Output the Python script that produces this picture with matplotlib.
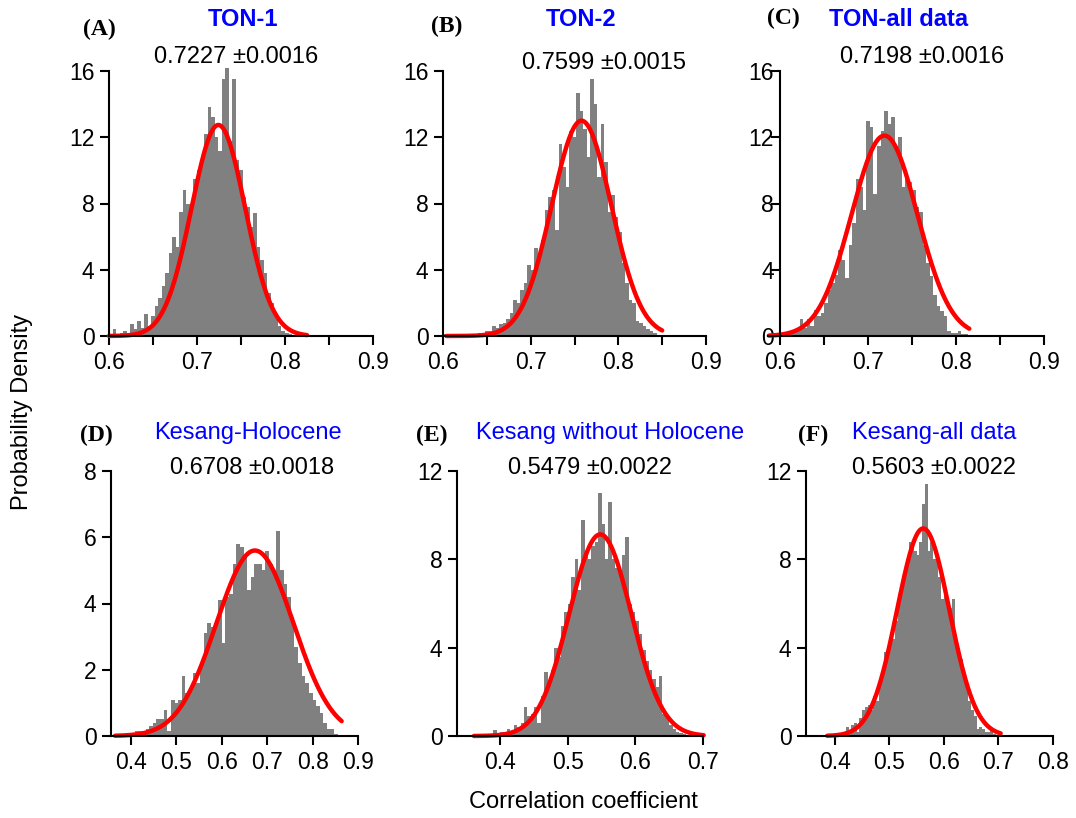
import numpy as np
import matplotlib
matplotlib.use("Agg")
import matplotlib.pyplot as plt

plt.rcParams['font.family'] = ['Liberation Sans', 'DejaVu Sans']

# ---- data ----
# histogram bins: first bin left edge and bin width, then densities
a_start, a_width = 0.600, 0.004
a_dens = [0.1, 0.4, 0.1, 0.2, 0.3, 0.2, 0.7, 0.4, 0.9, 0.5, 1.3, 0.6, 1.2, 1.8,
          2.3, 3.0, 3.8, 5.0, 6.0, 5.4, 7.5, 8.8, 8.0, 7.6, 9.5, 10.0, 10.8,
          12.2, 13.8, 13.2, 12.0, 11.2, 15.5, 16.2, 11.8, 15.5, 10.6, 10.0, 8.4,
          7.8, 6.6, 7.4, 5.4, 4.6, 3.8, 2.6, 2.0, 1.2, 0.6, 0.3, 0.2, 0.1, 0.05,
          0.0, 0.0]

b_start, b_width = 0.600, 0.004
b_dens = [0.1, 0.05, 0.0, 0.05, 0.05, 0.1, 0.05, 0.1, 0.1, 0.05, 0.2, 0.2, 0.3,
          0.3, 0.6, 0.5, 0.7, 0.8, 1.0, 1.4, 2.2, 2.0, 2.8, 3.2, 4.3, 4.0, 5.3,
          5.0, 5.8, 7.6, 8.4, 8.8, 6.4, 11.6, 10.2, 9.0, 12.4, 12.0, 14.7, 13.6,
          12.5, 10.8, 15.5, 14.0, 9.6, 12.8, 10.5, 7.5, 8.5, 7.2, 6.3, 4.4, 3.2,
          2.2, 2.0, 0.9, 0.8, 0.6, 0.4, 0.3, 0.2, 0.05, 0.0]

c_start, c_width = 0.586, 0.004
c_dens = [0.1, 0.05, 0.1, 0.1, 0.1, 0.2, 0.15, 0.3, 0.3, 1.0, 0.5, 1.0, 0.6,
          1.6, 1.2, 1.4, 2.0, 2.8, 3.2, 3.7, 5.2, 4.6, 3.5, 5.5, 6.8, 9.5, 9.0,
          7.6, 13.0, 12.6, 8.6, 11.5, 12.4, 13.6, 12.8, 13.2, 11.5, 12.0, 9.0,
          9.6, 9.3, 8.8, 7.8, 7.5, 5.5, 4.4, 3.6, 2.5, 1.8, 1.5, 1.2, 0.3, 0.2,
          0.2, 0.3, 0.15, 0.1, 0.0]

d_start, d_width = 0.360, 0.008
d_dens = [0.0, 0.02, 0.02, 0.05, 0.05, 0.1, 0.15, 0.15, 0.1, 0.2, 0.3, 0.4, 0.5,
          0.5, 0.8, 0.15, 1.1, 1.0, 1.1, 1.8, 1.3, 1.4, 1.9, 1.6, 2.2, 3.1, 3.4,
          3.3, 3.4, 4.1, 2.8, 4.2, 4.3, 5.2, 5.8, 5.7, 5.5, 4.4, 4.8, 5.2, 5.2,
          5.0, 5.6, 5.2, 5.0, 6.2, 5.0, 4.6, 4.2, 3.6, 2.7, 2.2, 1.8, 1.6, 1.3,
          1.1, 0.9, 0.7, 0.4, 0.2, 0.2, 0.05, 0.0]

e_start, e_width = 0.360, 0.005
e_dens = [0.0, 0.02, 0.05, 0.05, 0.05, 0.1, 0.25, 0.1, 0.2, 0.15, 0.3, 0.2, 0.5,
          0.4, 0.6, 1.3, 0.9, 1.0, 1.3, 0.6, 1.8, 2.9, 2.4, 3.0, 4.0, 3.6, 5.0,
          5.6, 6.0, 7.2, 8.0, 6.6, 9.8, 8.3, 8.0, 8.6, 8.8, 11.0, 9.6, 8.0, 10.6,
          8.0, 7.6, 7.3, 8.2, 9.0, 6.0, 5.6, 5.2, 4.6, 3.9, 3.4, 3.0, 2.6, 2.2,
          2.7, 1.0, 0.9, 0.5, 0.3, 0.2, 0.15, 0.1, 0.05, 0.02, 0.0, 0.0, 0.0]

f_start, f_width = 0.385, 0.005
f_dens = [0.02, 0.02, 0.05, 0.05, 0.05, 0.1, 0.1, 0.4, 0.2, 0.5, 0.6, 0.2, 0.8,
          1.2, 1.3, 1.4, 1.2, 1.8, 1.6, 2.3, 2.7, 3.8, 3.6, 4.1, 4.4, 5.2, 6.0,
          6.5, 7.1, 8.0, 8.8, 8.6, 8.4, 8.2, 8.8, 10.5, 11.4, 8.4, 8.8, 8.0, 8.2,
          7.2, 6.2, 6.6, 6.0, 5.8, 6.2, 4.2, 4.0, 3.5, 2.6, 2.2, 1.6, 1.2, 0.9,
          0.3, 0.4, 0.3, 0.2, 0.2, 0.3, 0.1, 0.05, 0.0]

# gaussian fits: peak height, centre, sigma, x range drawn
fit_amp = [12.74, 13.0, 12.1, 5.6, 9.13, 9.4]
fit_mu = [0.7243, 0.758, 0.7185, 0.673, 0.548, 0.562]
fit_sd = [0.0305, 0.034, 0.0375, 0.085, 0.046, 0.048]
fit_lo = [0.600, 0.604, 0.587, 0.365, 0.361, 0.386]
fit_hi = [0.825, 0.850, 0.815, 0.864, 0.701, 0.704]

letters = ['(A)', '(B)', '(C)', '(D)', '(E)', '(F)']
names = ['TON-1', 'TON-2', 'TON-all data', 'Kesang-Holocene',
         'Kesang without Holocene', 'Kesang-all data']
stats = ['0.7227 \u00b10.0016', '0.7599 \u00b10.0015', '0.7198 \u00b10.0016',
         '0.6708 \u00b10.0018', '0.5479 \u00b10.0022', '0.5603 \u00b10.0022']

yticks = [[0, 4, 8, 12, 16]] * 3 + [[0, 2, 4, 6, 8], [0, 4, 8, 12], [0, 4, 8, 12]]
xticks = [[0.6, 0.7, 0.8, 0.9]] * 3 + [[0.4, 0.5, 0.6, 0.7, 0.8, 0.9],
                                       [0.4, 0.5, 0.6, 0.7],
                                       [0.4, 0.5, 0.6, 0.7, 0.8]]
hists = [(a_start, a_width, a_dens), (b_start, b_width, b_dens),
         (c_start, c_width, c_dens), (d_start, d_width, d_dens),
         (e_start, e_width, e_dens), (f_start, f_width, f_dens)]

# ---- layout (pixels of a 1076x818 canvas) ----
W, H = 1076, 818
boxes = [(109, 264), (443, 263), (768, 276), (111, 247), (457, 246), (806, 247)]
rows = [336, 336, 336, 736, 736, 736]
xlims = [(0.6, 0.9), (0.6, 0.9), (0.586, 0.9), (0.356, 0.9), (0.336, 0.7), (0.347, 0.8)]
letter_pos = [(99, 29), (447, 26), (783, 18), (96, 435), (432, 435), (813, 435)]
name_pos = [(243, 20), (581, 20), (899, 19), (248, 433), (610, 433), (934, 433)]
stat_pos = [(236, 57), (604, 63), (922, 57), (252, 468), (590, 468), (934, 468)]

fig = plt.figure(figsize=(W / 100, H / 100), dpi=100)

for i in range(6):
    left, wid = boxes[i]
    ax = fig.add_axes([left / W, 1 - rows[i] / H, wid / W, 265 / H])
    start, width, dens = hists[i]
    centers = start + width / 2 + width * np.arange(len(dens))
    ax.bar(centers, dens, width=width, color='#808080', linewidth=0, clip_on=False)

    xs = np.linspace(fit_lo[i], fit_hi[i], 300)
    ys = fit_amp[i] * np.exp(-0.5 * ((xs - fit_mu[i]) / fit_sd[i]) ** 2)
    ax.plot(xs, ys, color='red', lw=3.2, solid_capstyle='round', clip_on=False)

    ax.set_xlim(*xlims[i])
    ax.set_ylim(yticks[i][0], yticks[i][-1])
    ax.set_xticks(xticks[i])
    ax.set_xticklabels(['%.1f' % t for t in xticks[i]])
    ax.set_yticks(yticks[i])
    if i < 3:
        ax.set_xticks([0.65, 0.75, 0.85], minor=True)
    ax.tick_params(which='both', direction='out', length=6.5, width=1.5,
                   labelsize=16.5, pad=4)
    for s in ['top', 'right']:
        ax.spines[s].set_visible(False)
    for s in ['left', 'bottom']:
        ax.spines[s].set_linewidth(1.5)
    if i == 2:
        ax.spines['left'].set_position(('data', 0.6))
        ax.spines['bottom'].set_bounds(0.586, 0.9)
        ax.tick_params(axis='y', pad=-2)
    ax.patch.set_alpha(0)

    fig.text(letter_pos[i][0] / W, 1 - letter_pos[i][1] / H, letters[i],
             family='Liberation Serif', weight='bold', fontsize=17,
             ha='center', va='center')
    fig.text(name_pos[i][0] / W, 1 - name_pos[i][1] / H, names[i], color='#0000ff',
             weight='bold' if i < 3 else 'normal', fontsize=17,
             ha='center', va='center')
    fig.text(stat_pos[i][0] / W, 1 - stat_pos[i][1] / H, stats[i], fontsize=17,
             ha='center', va='center')

fig.text(22 / W, 1 - 412 / H, 'Probability Density', rotation=90, fontsize=17,
         ha='center', va='center')
fig.text(583 / W, 1 - 802 / H, 'Correlation coefficient', fontsize=17,
         ha='center', va='center')

fig.savefig('out.png', dpi=100)
